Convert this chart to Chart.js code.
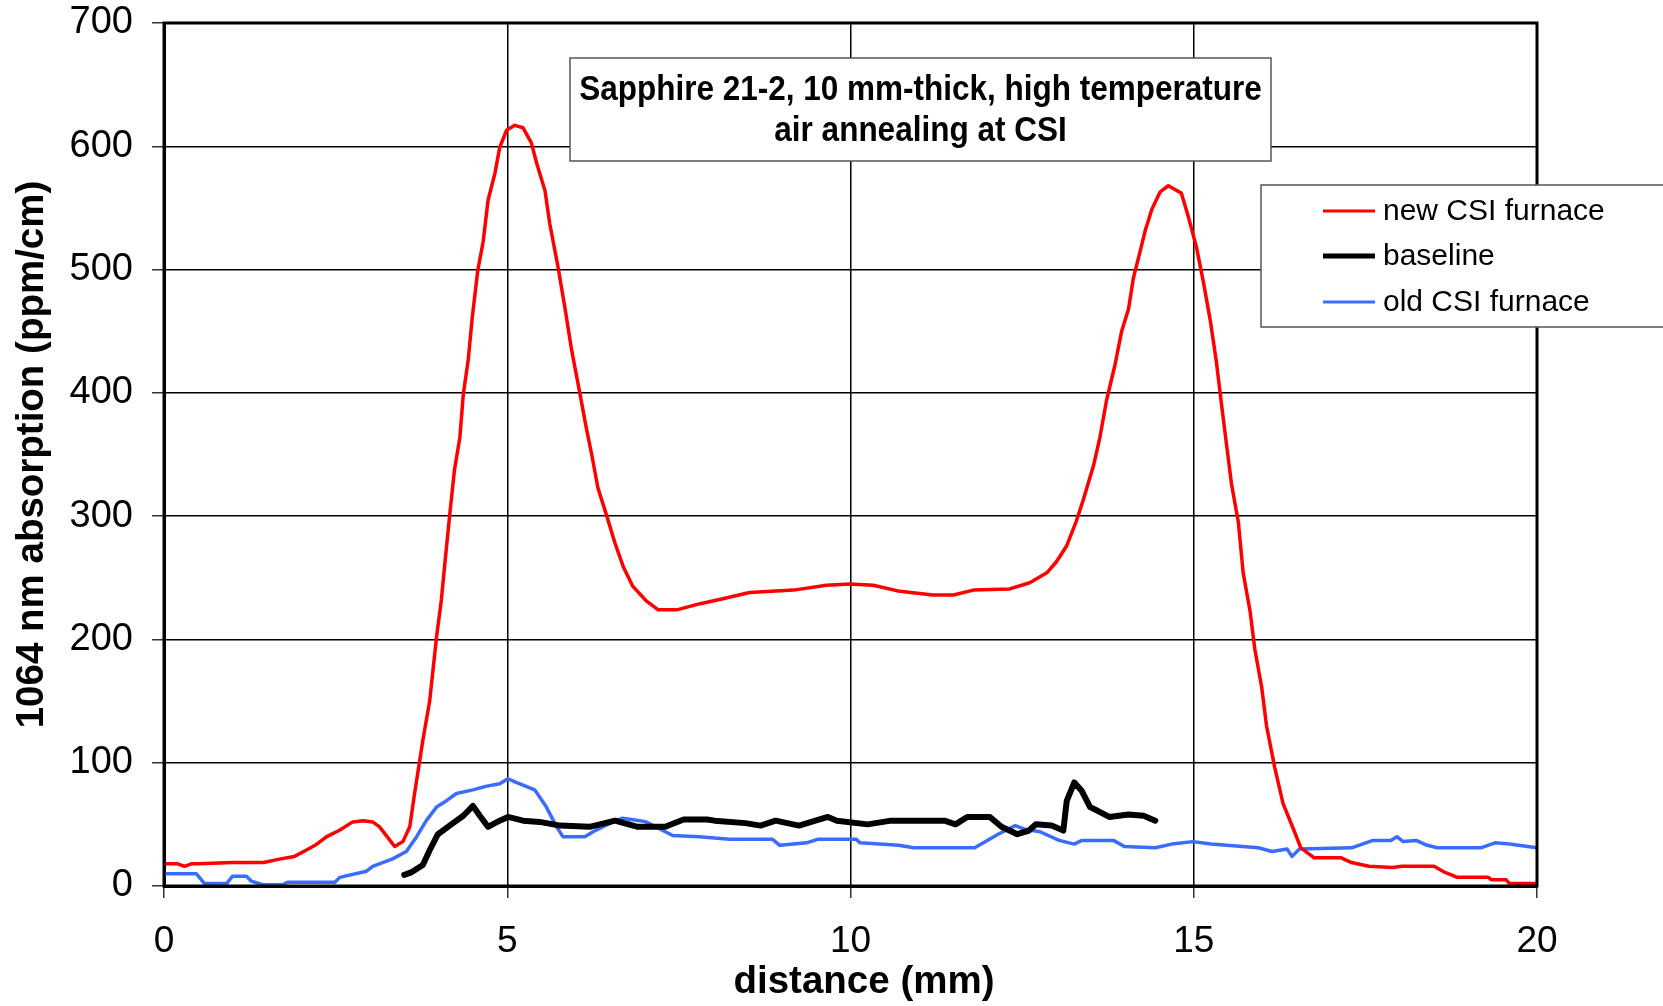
<!DOCTYPE html>
<html>
<head>
<meta charset="utf-8">
<title>Sapphire 21-2 absorption</title>
<script src="https://cdn.jsdelivr.net/npm/chart.js@4.4.1/dist/chart.umd.min.js"></script>
<style>
  html, body { margin: 0; padding: 0; background: #fff; }
  canvas { display: block; }
</style>
</head>
<body>
<canvas id="absorptionChart" width="1663" height="1006"></canvas>
<script>
// distance (mm) / absorption (ppm/cm)

// new CSI furnace
const newFurnaceX = [0, 0.2, 0.3, 0.4, 0.5, 1.0, 1.45, 1.7, 1.9, 2.07, 2.2, 2.37, 2.55, 2.75, 2.9, 3.04, 3.14, 3.25, 3.36, 3.48,
    3.58, 3.65, 3.72, 3.77, 3.87, 3.97, 4.04, 4.09, 4.16, 4.23, 4.31, 4.36, 4.43, 4.49, 4.57, 4.65, 4.72, 4.82, 4.89, 4.99,
    5.11, 5.23, 5.35, 5.43, 5.55, 5.62, 5.74, 5.84, 5.94, 6.06, 6.15, 6.23, 6.32, 6.45, 6.57, 6.69, 6.83, 7.03, 7.2, 7.47,
    7.81, 8.14, 8.53, 9.17, 9.65, 9.99, 10.33, 10.72, 11.2, 11.5, 11.79, 12.32, 12.61, 12.86, 13.0, 13.15, 13.29, 13.39, 13.54, 13.63,
    13.73, 13.85, 13.95, 14.05, 14.12, 14.22, 14.29, 14.39, 14.51, 14.63, 14.82, 14.92, 15.04, 15.14, 15.24, 15.33, 15.41, 15.48, 15.55, 15.65,
    15.72, 15.82, 15.89, 15.99, 16.06, 16.18, 16.3, 16.46, 16.56, 16.75, 17.14, 17.3, 17.55, 17.9, 18.03, 18.5, 18.66, 18.84, 19.29, 19.34,
    19.55, 19.6, 20.0];
const newFurnaceY = [18, 18, 16, 18, 18, 19, 19, 22, 24, 29, 33, 40, 45, 52, 53, 52, 48, 40, 32, 36,
    48, 75, 100, 118, 150, 202, 232, 261, 300, 337, 364, 399, 426, 461, 499, 523, 556, 578, 599, 613,
    617, 615, 603, 586, 564, 537, 502, 469, 434, 399, 372, 350, 323, 300, 278, 259, 243, 231, 224, 224,
    229, 233, 238, 240, 244, 245, 244, 239, 236, 236, 240, 241, 246, 254, 263, 276, 296, 313, 341, 363,
    394, 422, 450, 468, 493, 515, 531, 549, 563, 568, 562, 543, 518, 490, 459, 425, 388, 357, 326, 295,
    254, 223, 192, 161, 130, 96, 67, 45, 31, 23, 23, 19, 16, 15, 16, 16, 11, 7, 7, 5,
    5, 2, 2];

// baseline
const baselineX = [3.5, 3.6, 3.77, 3.87, 3.99, 4.16, 4.36, 4.5, 4.6, 4.72, 4.89, 5.01, 5.23, 5.47, 5.77, 6.2, 6.57, 6.9, 7.3, 7.57,
    7.91, 8.02, 8.47, 8.69, 8.91, 9.25, 9.67, 9.8, 10.25, 10.59, 11.37, 11.53, 11.7, 12.03, 12.2, 12.43, 12.6, 12.7, 12.93, 13.1,
    13.15, 13.26, 13.37, 13.49, 13.6, 13.77, 14.05, 14.27, 14.44];
const baselineY = [9, 11, 17, 29, 42, 49, 57, 65, 57, 48, 53, 56, 53, 52, 49, 48, 53, 48, 48, 54,
    54, 53, 51, 49, 53, 49, 56, 53, 50, 53, 53, 50, 56, 56, 48, 42, 45, 50, 49, 45,
    69, 84, 77, 64, 61, 56, 58, 57, 53];

// old CSI furnace
const oldFurnaceX = [0, 0.47, 0.59, 0.91, 1.0, 1.2, 1.27, 1.44, 1.73, 1.8, 2.49, 2.56, 2.95, 3.04, 3.33, 3.53, 3.68, 3.82, 3.97, 4.11,
    4.26, 4.5, 4.7, 4.89, 5.01, 5.13, 5.4, 5.57, 5.72, 5.81, 6.13, 6.25, 6.54, 6.68, 6.93, 7.02, 7.41, 7.8, 8.24, 8.86,
    8.97, 9.36, 9.53, 10.08, 10.14, 10.7, 10.92, 11.81, 12.15, 12.4, 12.54, 12.76, 13.04, 13.26, 13.37, 13.83, 13.99, 14.44, 14.68, 14.99,
    15.25, 15.94, 16.14, 16.36, 16.43, 16.54, 17.3, 17.61, 17.87, 17.96, 18.05, 18.24, 18.4, 18.55, 19.18, 19.39, 19.6, 20.0];
const oldFurnaceY = [10, 10, 2, 2, 8, 8, 4, 1, 1, 3, 3, 7, 12, 16, 22, 28, 40, 53, 64, 69,
    75, 78, 81, 83, 87, 84, 78, 64, 48, 40, 40, 44, 52, 55, 53, 52, 41, 40, 38, 38,
    33, 35, 38, 38, 35, 33, 31, 31, 42, 49, 46, 44, 37, 34, 37, 37, 32, 31, 34, 36,
    34, 31, 28, 30, 24, 30, 31, 37, 37, 40, 36, 37, 33, 31, 31, 35, 34, 31];

const seriesNames = ['new CSI furnace', 'baseline', 'old CSI furnace'];
const seriesColors = ['#ff0000', '#000000', '#3a6cff'];
const seriesWidths = [3.5, 6, 3.5];

const xTicks = [0, 5, 10, 15, 20];
const yTicks = [0, 100, 200, 300, 400, 500, 600, 700];

const chartTitle = ['Sapphire 21-2, 10 mm-thick, high temperature', 'air annealing at CSI'];
const xAxisTitle = 'distance (mm)';
const yAxisTitle = '1064 nm absorption (ppm/cm)';

const FONT = "'Liberation Sans', Arial, sans-serif";

function toPoints(xs, ys) {
    return xs.map((x, i) => ({ x: x, y: ys[i] }));
}

// Draws the plot frame, the x title, the boxed title and the boxed legend on top of the lines
const overlayPlugin = {
    id: 'overlay',
    afterDraw(chart) {
        const ctx = chart.ctx;
        const area = chart.chartArea;
        ctx.save();

        // frame
        ctx.strokeStyle = '#000';
        ctx.lineWidth = 3;
        ctx.strokeRect(area.left, area.top, area.right - area.left, area.bottom - area.top);

        // x axis title (sits a little right of the plot centre in the original)
        ctx.fillStyle = '#000';
        ctx.font = 'bold 38.5px ' + FONT;
        ctx.textAlign = 'center';
        ctx.textBaseline = 'middle';
        ctx.fillText(xAxisTitle, 864, 982);

        // title box
        const tb = { left: 570, top: 58, right: 1271, bottom: 161 };
        ctx.fillStyle = '#fff';
        ctx.fillRect(tb.left, tb.top, tb.right - tb.left, tb.bottom - tb.top);
        ctx.strokeStyle = '#555';
        ctx.lineWidth = 1.5;
        ctx.strokeRect(tb.left, tb.top, tb.right - tb.left, tb.bottom - tb.top);
        ctx.fillStyle = '#000';
        ctx.font = 'bold 35px ' + FONT;
        ctx.textAlign = 'center';
        ctx.textBaseline = 'alphabetic';
        const cx = (tb.left + tb.right) / 2;
        [100, 141].forEach((baseY, i) => {
            ctx.save();
            ctx.translate(cx, baseY);
            ctx.scale(0.9, 1);
            ctx.fillText(chartTitle[i], 0, 0);
            ctx.restore();
        });

        // legend box
        const lb = { left: 1261, top: 185, right: 1670, bottom: 327 };
        ctx.fillStyle = '#fff';
        ctx.fillRect(lb.left, lb.top, lb.right - lb.left, lb.bottom - lb.top);
        ctx.strokeStyle = '#555';
        ctx.lineWidth = 1.5;
        ctx.strokeRect(lb.left, lb.top, lb.right - lb.left, lb.bottom - lb.top);
        ctx.font = '30px ' + FONT;
        ctx.textAlign = 'left';
        ctx.textBaseline = 'middle';
        const rows = [211, 256, 302];
        const legendWidths = [3, 5, 3];
        chart.data.datasets.forEach((ds, i) => {
            ctx.strokeStyle = ds.borderColor;
            ctx.lineWidth = legendWidths[i];
            ctx.beginPath();
            ctx.moveTo(1323, rows[i]);
            ctx.lineTo(1375, rows[i]);
            ctx.stroke();
            ctx.fillStyle = '#000';
            ctx.fillText(ds.label, 1383, rows[i] + 1);
        });

        ctx.restore();
    }
};

const ctx = document.getElementById('absorptionChart').getContext('2d');

new Chart(ctx, {
    type: 'line',
    data: {
        datasets: [
            { label: seriesNames[0], data: toPoints(newFurnaceX, newFurnaceY) },
            { label: seriesNames[1], data: toPoints(baselineX, baselineY) },
            { label: seriesNames[2], data: toPoints(oldFurnaceX, oldFurnaceY) }
        ].map((ds, i) => Object.assign(ds, {
            borderColor: seriesColors[i],
            backgroundColor: seriesColors[i],
            borderWidth: seriesWidths[i],
            pointRadius: 0,
            tension: 0,
            fill: false,
            borderJoinStyle: 'round',
            borderCapStyle: 'round'
        }))
    },
    options: {
        responsive: false,
        devicePixelRatio: 1,
        animation: false,
        layout: {
            padding: { top: 23, right: 126, left: 0, bottom: 0 }
        },
        plugins: {
            legend: { display: false },
            tooltip: { enabled: false },
            title: { display: false }
        },
        scales: {
            x: {
                type: 'linear',
                min: 0,
                max: 20,
                afterFit: (axis) => {
                    axis.height = 120;
                    axis.paddingLeft = 0;
                    axis.paddingRight = 0;
                },
                afterBuildTicks: (axis) => { axis.ticks = xTicks.map(v => ({ value: v })); },
                ticks: {
                    color: '#000',
                    font: { family: FONT, size: 37 },
                    padding: 22,
                    maxRotation: 0
                },
                grid: {
                    color: '#000',
                    lineWidth: 1.5,
                    tickLength: 12,
                    tickColor: '#333',
                    tickWidth: 1.5
                },
                border: { color: '#000', width: 3 },
                title: { display: false }
            },
            y: {
                type: 'linear',
                min: 0,
                max: 700,
                afterFit: (axis) => {
                    axis.width = 164;
                    axis.paddingTop = 0;
                    axis.paddingBottom = 0;
                },
                afterBuildTicks: (axis) => { axis.ticks = yTicks.map(v => ({ value: v })); },
                ticks: {
                    color: '#000',
                    font: { family: FONT, size: 38 },
                    padding: 19
                },
                grid: {
                    color: '#000',
                    lineWidth: 1.5,
                    tickLength: 12,
                    tickColor: '#333',
                    tickWidth: 1.5
                },
                border: { color: '#000', width: 3 },
                title: {
                    display: true,
                    text: yAxisTitle,
                    color: '#000',
                    font: { family: FONT, size: 38.5, weight: 'bold' },
                    padding: { top: 9, bottom: 0 }
                }
            }
        }
    },
    plugins: [overlayPlugin]
});
</script>
</body>
</html>
